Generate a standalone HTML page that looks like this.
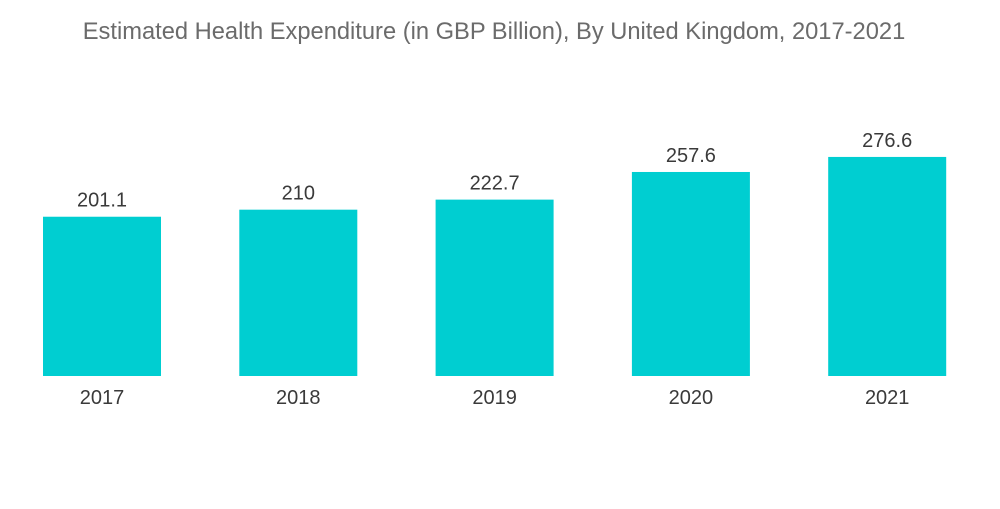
<!DOCTYPE html>
<html>
<head>
<meta charset="utf-8">
<style>
  html,body{margin:0;padding:0;background:#fff;}
  body{width:1000px;height:504px;overflow:hidden;}
  svg text{font-family:"Liberation Sans",sans-serif;}
</style>
</head>
<body>
<svg id="chart" width="1000" height="504" viewBox="0 0 1000 504" xmlns="http://www.w3.org/2000/svg">
  <text x="494" y="39" text-anchor="middle" font-size="23.7" fill="#6b6b6b">Estimated Health Expenditure (in GBP Billion), By United Kingdom, 2017-2021</text>
  <g id="bars"></g>
</svg>
<script>
const categories = ["2017", "2018", "2019", "2020", "2021"];
const values = [201.1, 210, 222.7, 257.6, 276.6];
const valueLabels = ["201.1", "210", "222.7", "257.6", "276.6"];

const baseY = 376, pxPerUnit = 0.792;
const firstX = 43, step = 196.3, barW = 118;
function xPos(i){ return firstX + i * step; }
function yPos(v){ return baseY - v * pxPerUnit; }

const ns = "http://www.w3.org/2000/svg";
const g = document.getElementById("bars");
categories.forEach((c, i) => {
  const x = xPos(i), y = yPos(values[i]);
  const r = document.createElementNS(ns, "rect");
  r.setAttribute("x", x); r.setAttribute("y", y);
  r.setAttribute("width", barW); r.setAttribute("height", baseY - y);
  r.setAttribute("fill", "#00ced1");
  
  
  g.appendChild(r);

  const t = document.createElementNS(ns, "text");
  t.setAttribute("x", x + barW / 2); t.setAttribute("y", y - 10);
  t.setAttribute("text-anchor", "middle"); t.setAttribute("font-size", "20");
  t.setAttribute("fill", "#3a3a3a");
  t.textContent = valueLabels[i];
  
  
  g.appendChild(t);

  const l = document.createElementNS(ns, "text");
  l.setAttribute("x", x + barW / 2); l.setAttribute("y", 404);
  l.setAttribute("text-anchor", "middle"); l.setAttribute("font-size", "20");
  l.setAttribute("fill", "#3a3a3a");
  l.textContent = c;
  
  
  g.appendChild(l);
});
</script>
</body>
</html>
